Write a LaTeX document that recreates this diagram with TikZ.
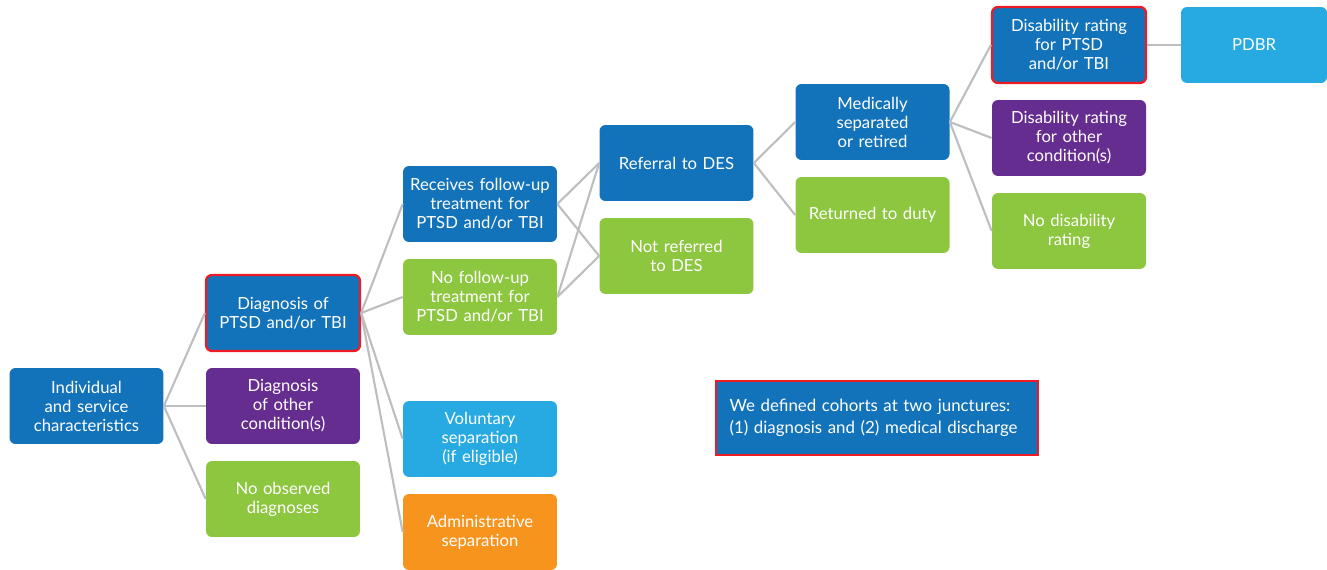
\documentclass[tikz,border=0pt]{standalone}
\usepackage{fontspec}
\setmainfont{Lato}
\usetikzlibrary{positioning}

\definecolor{cblue}{HTML}{1373BA}
\definecolor{cpurple}{HTML}{662D91}
\definecolor{cgreen}{HTML}{8DC63F}
\definecolor{clight}{HTML}{27AAE1}
\definecolor{corange}{HTML}{F7941D}
\definecolor{cred}{HTML}{ED1C24}
\definecolor{cline}{HTML}{BCBEC0}

\tikzset{
  box/.style={rounded corners=0.12cm, minimum width=3.08cm, minimum height=1.52cm,
    text width=2.9cm, align=center, text=white, inner sep=0pt,
    font=\fontsize{9.5}{10.8}\selectfont},
  bluebox/.style={box, fill=cblue},
  purplebox/.style={box, fill=cpurple},
  greenbox/.style={box, fill=cgreen},
  lightbox/.style={box, fill=clight},
  orangebox/.style={box, fill=corange},
  redline/.style={draw=cred, line width=1.3pt},
  link/.style={draw=cline, line width=1.2pt}
}

\begin{document}
\begin{tikzpicture}[x=0.02cm,y=-0.02cm]
\useasboundingbox (0,0) rectangle (1327,570);
\clip (0,0) rectangle (1327,570);

\node[bluebox](indiv) at (86.5,406){Individual\\and service\\characteristics};
\node[bluebox,redline](ptsd) at (283,313){Diagnosis of\\PTSD and/or TBI};
\node[purplebox](other) at (283,406){Diagnosis\\of other\\condition(s)};
\node[greenbox](nodiag) at (283,499){No observed\\diagnoses};

\node[bluebox](follow) at (480,204){Receives follow-up\\treatment for\\PTSD and/or TBI};
\node[greenbox](nofollow) at (480,297){No follow-up\\treatment for\\PTSD and/or TBI};
\node[lightbox](volsep) at (480,439){Voluntary\\separation\\(if eligible)};
\node[orangebox](admsep) at (480,532){Administrative\\separation};

\node[bluebox](refdes) at (676.5,163){Referral to DES};
\node[greenbox](norefdes) at (676.5,256){Not referred\\to DES};

\node[bluebox](medsep) at (872.5,122){Medically\\separated\\or retired};
\node[greenbox](duty) at (872.5,215){Returned to duty};

\node[bluebox,redline](ratptsd) at (1069,45){Disability rating\\for PTSD\\and/or TBI};
\node[purplebox](ratother) at (1069,138){Disability rating\\for other\\condition(s)};
\node[greenbox](norating) at (1069,231){No disability\\rating};
\node[lightbox, minimum width=2.92cm](pdbr) at (1254,45){PDBR};

\node[fill=cblue, draw=cred, line width=1.3pt, minimum width=6.44cm, minimum height=1.48cm,
  text width=5.9cm, align=left, text=white, inner sep=0pt,
  font=\fontsize{9.6}{12.5}\selectfont](cohorts) at (877,418)
  {We defined cohorts at two junctures:\\(1)~diagnosis and (2)~medical discharge};

\path[link]
(indiv.east) edge (ptsd.west)
(indiv.east) edge (other.west)
(indiv.east) edge (nodiag.west)
(ptsd.east) edge (follow.west)
(ptsd.east) edge (nofollow.west)
(ptsd.east) edge (volsep.west)
(ptsd.east) edge (admsep.west)
(follow.east) edge (refdes.west)
(follow.east) edge (norefdes.west)
(nofollow.east) edge (refdes.west)
(nofollow.east) edge (norefdes.west)
(refdes.east) edge (medsep.west)
(refdes.east) edge (duty.west)
(medsep.east) edge (ratptsd.west)
(medsep.east) edge (ratother.west)
(medsep.east) edge (norating.west)
(ratptsd.east) edge (pdbr.west);
\end{tikzpicture}
\end{document}
